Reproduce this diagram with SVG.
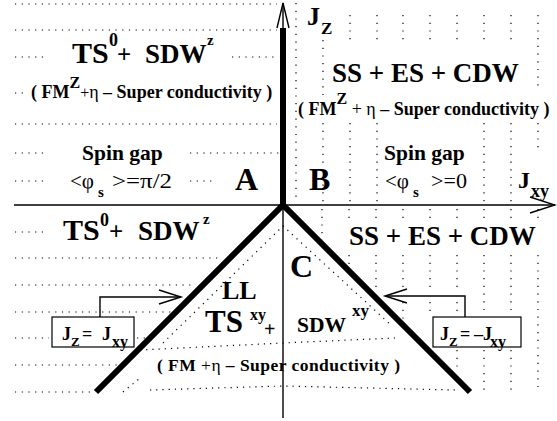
<svg xmlns="http://www.w3.org/2000/svg" width="557" height="421" viewBox="0 0 557 421">
<style>
.dh{stroke:#000;stroke-width:1.2;stroke-dasharray:1.2 5.5;fill:none}
.dv{stroke:#000;stroke-width:1.2;stroke-dasharray:1.2 6.5;fill:none}
.dd{stroke:#000;stroke-width:1.2;stroke-dasharray:1.2 5;fill:none}
.thin{stroke:#000;stroke-width:1.4;fill:none}
.thick{stroke:#000;stroke-width:6;fill:none}
.box{fill:#fff;stroke:#000;stroke-width:1.2}
</style>
<defs>
<marker id="open" markerUnits="userSpaceOnUse" markerWidth="26" markerHeight="18" refX="23" refY="8" orient="auto">
<path d="M1,1 L23,8 L1,15" fill="none" stroke="#000" stroke-width="1.4"/>
</marker>
</defs>

<g id="grid">
<path class="dh" d="M15,4H277M15,30H277M15,57H43M232,57H277M15,93H28M15,124H277M15,153H43M190,153H279M15,181H43M190,181H216"/>
<path class="dh" d="M15,232H43M15,258H219M15,285H195M15,312H171M15,338H49M137,338H146M15,365H117M15,392H90"/>
<path class="dv" d="M296,3V203M323,40V97M323,123V203M350,15V43M350,123V203M377,15V43M377,123V203M403,15V43M430,15V43M457,15V43M484,15V43M484,123V203M511,15V43M511,123V203M538,15V92M538,123V150"/>
<path class="dv" d="M322,209V240M349,209V222M376,209V222M403,209V222M430,209V222M457,209V222M484,209V222M511,209V222M538,209V222M349,255V265M376,255V291M403,255V290M403,302V319M430,255V290M430,302V316M457,255V290M457,302V316M457,350V373M484,255V316M484,350V390M511,255V316M511,350V390M538,255V390"/>
<path class="dd" d="M163,343L283,226L392,326M140,350L283,343L395,338M123,392L140,378M150,390L283,386L455,390"/>
</g>

<g id="connectors">
<line class="thin" x1="14" y1="205" x2="555" y2="205"/>
<path class="thin" d="M530,197L555,205L530,213"/>
<line class="thin" x1="283" y1="3" x2="283" y2="418"/>
<path class="thin" d="M277,28L283,3L289,28"/>
<line class="thick" x1="283" y1="28" x2="283" y2="205"/>
<polyline class="thick" points="96,392 283,205 470,392" stroke-linejoin="miter"/>
<path class="thin" d="M100,317V297H181" marker-end="url(#open)"/>
<path class="thin" d="M465,317V296H385" marker-end="url(#open)"/>
</g>

<g font-family="Liberation Serif, DejaVu Serif, serif" font-weight="bold" fill="#000">
<g id="region-A">
<text x="72" y="63" font-size="30">TS</text>
<text x="109" y="46" font-size="18">0</text>
<text x="117" y="63" font-size="25">+</text>
<text x="145" y="63" font-size="27">SDW</text>
<text x="207" y="45" font-size="15">z</text>
<text x="31" y="98" font-size="18">( FM<tspan dy="-10" font-size="16">Z</tspan><tspan font-weight="normal" dy="10" font-size="16">+</tspan><tspan font-weight="normal">η</tspan> – Super conductivity )</text>
<text x="82" y="160" font-size="21.5">Spin gap</text>
<text font-weight="normal" x="70" y="188" font-size="21">&lt;φ</text>
<text x="98" y="197" font-size="15">s</text>
<text font-weight="normal" x="112" y="188" font-size="21" textLength="60" lengthAdjust="spacingAndGlyphs">&gt;=π/2</text>
<text x="235" y="190" font-size="32">A</text>
</g>
<g id="region-B">
<text x="332" y="82" font-size="27">SS + ES + CDW</text>
<text x="298" y="115" font-size="18">( FM<tspan dy="-11" font-size="16">Z</tspan><tspan font-weight="normal" dy="11" font-size="18"> + η </tspan>– Super conductivity )</text>
<text x="384" y="160" font-size="21.5">Spin gap</text>
<text font-weight="normal" x="385" y="188" font-size="21">&lt;φ</text>
<text x="413" y="197" font-size="15">s</text>
<text font-weight="normal" x="431" y="188" font-size="21" textLength="36" lengthAdjust="spacingAndGlyphs">&gt;=0</text>
<text x="309" y="190" font-size="32">B</text>
</g>
<g id="axis-labels">
<text x="307" y="25" font-size="26">J</text>
<text x="321" y="34" font-size="17">Z</text>
<text x="518" y="188" font-size="24">J</text>
<text x="531" y="197" font-size="18">xy</text>
</g>
<g id="region-lower-left">
<text x="63" y="240" font-size="30">TS</text>
<text x="100" y="226" font-size="18">0</text>
<text x="109" y="240" font-size="25">+</text>
<text x="138" y="240" font-size="27">SDW</text>
<text x="203" y="224" font-size="15">z</text>
</g>
<g id="region-lower-right">
<text x="349" y="245" font-size="27">SS + ES + CDW</text>
</g>
<g id="region-C">
<text x="290" y="277" font-size="32">C</text>
<text x="222" y="299" font-size="26">LL</text>
<text x="205" y="332" font-size="31">TS</text>
<text x="250" y="320" font-size="16">xy</text>
<text x="264" y="336" font-size="20">+</text>
<text x="297" y="332" font-size="21.5">SDW</text>
<text x="352" y="316" font-size="17">xy</text>
<text x="157" y="371" font-size="17.5" textLength="243" lengthAdjust="spacing">( FM  <tspan font-weight="normal">+η</tspan> – Super conductivity )</text>
</g>
<g id="box-left">
<rect class="box" x="52" y="317" width="82" height="30"/>
<text x="62" y="340" font-size="18">J</text>
<text x="71" y="346" font-size="13">Z</text>
<text x="82" y="340" font-size="18">=</text>
<text x="102" y="340" font-size="18">J</text>
<text x="112" y="347" font-size="16">xy</text>
</g>
<g id="box-right">
<rect class="box" x="433" y="317" width="88" height="30"/>
<text x="440" y="340" font-size="18">J</text>
<text x="449" y="346" font-size="13">Z</text>
<text x="460" y="340" font-size="18">=</text>
<text x="474" y="340" font-size="18">–J</text>
<text x="490" y="347" font-size="16">xy</text>
</g>
</g>
</svg>
